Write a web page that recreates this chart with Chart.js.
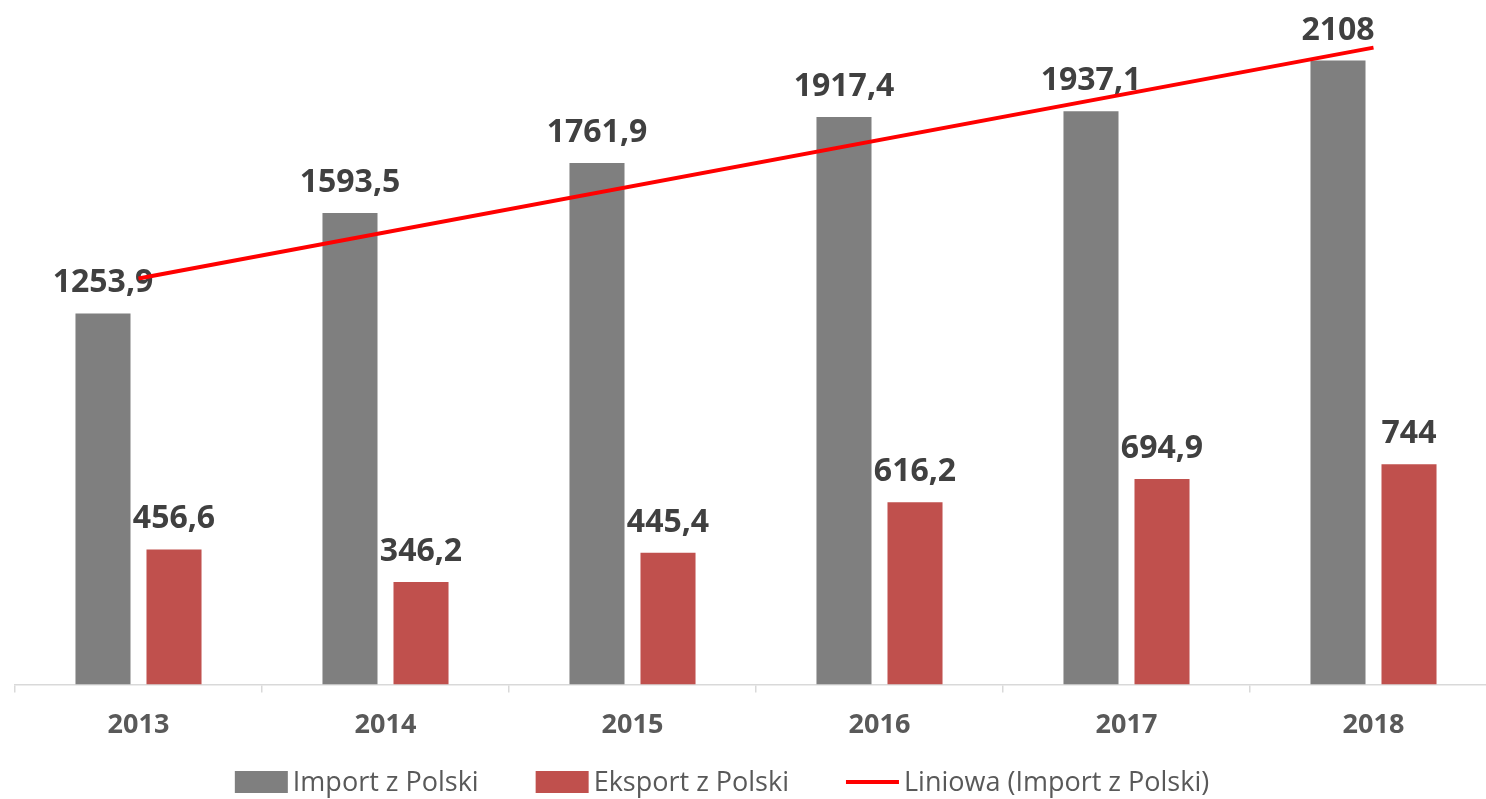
<!DOCTYPE html>
<html>
<head>
<meta charset="utf-8">
<script src="https://cdn.jsdelivr.net/npm/chart.js@4/dist/chart.umd.min.js"></script>
<style>
  html, body { margin: 0; padding: 0; background: #fff; overflow: hidden; }
  #wrap { width: 1497px; height: 799px; }
</style>
</head>
<body>
<div id="wrap"><canvas id="wykres" width="1497" height="799"></canvas></div>
<script>
// dane
const lata = ['2013', '2014', '2015', '2016', '2017', '2018'];
const importZPolski = [1253.9, 1593.5, 1761.9, 1917.4, 1937.1, 2108];
const eksportZPolski = [456.6, 346.2, 445.4, 616.2, 694.9, 744];
// linia trendu (Liniowa) - tylko punkt poczatkowy i koncowy
const trendImport = [1372, null, null, null, null, 2152];

const nazwy = ['Import z Polski', 'Eksport z Polski', 'Liniowa (Import z Polski)'];
const kolory = ['#7f7f7f', '#c0504d', '#ff0000'];

// etykiety wartosci nad slupkami
const etykiety = {
    id: 'etykiety',
    beforeDatasetsDraw(chart) {
        const ctx = chart.ctx;
        ctx.save();
        ctx.font = 'bold 32px "Open Sans"';
        ctx.fillStyle = '#404040';
        ctx.textAlign = 'center';
        ctx.textBaseline = 'alphabetic';
        [0, 1].forEach(function (i) {
            const meta = chart.getDatasetMeta(i);
            meta.data.forEach(function (bar, j) {
                const v = chart.data.datasets[i].data[j];
                ctx.fillText(String(v).replace('.', ','), bar.x, bar.y - 21);
            });
        });
        ctx.restore();
    }
};

// legenda na dole
const legenda = {
    id: 'legenda',
    afterDraw(chart) {
        const ctx = chart.ctx;
        ctx.save();
        ctx.font = '27px "Open Sans"';
        ctx.textBaseline = 'middle';
        ctx.textAlign = 'left';
        const box = 53, gap = 5, odstep = 57, y = 782;
        const szer = nazwy.map(function (n) { return ctx.measureText(n).width; });
        let total = 0;
        szer.forEach(function (w) { total += box + gap + w; });
        total += odstep * (nazwy.length - 1);
        let x = 722 - total / 2;
        nazwy.forEach(function (n, i) {
            if (i < 2) {
                ctx.fillStyle = kolory[i];
                ctx.fillRect(x, y - 11, box, 22);
            } else {
                ctx.strokeStyle = kolory[i];
                ctx.lineWidth = 4;
                ctx.beginPath();
                ctx.moveTo(x, y);
                ctx.lineTo(x + box, y);
                ctx.stroke();
            }
            ctx.fillStyle = '#595959';
            ctx.fillText(n, x + box + gap, y + 1);
            x += box + gap + szer[i] + odstep;
        });
        ctx.restore();
    }
};

const ctx = document.getElementById('wykres').getContext('2d');
new Chart(ctx, {
    type: 'bar',
    data: {
        labels: lata,
        datasets: [
            {
                label: nazwy[0],
                data: importZPolski,
                backgroundColor: kolory[0],
                order: 2
            },
            {
                label: nazwy[1],
                data: eksportZPolski,
                backgroundColor: kolory[1],
                order: 2
            },
            {
                type: 'line',
                label: nazwy[2],
                data: trendImport,
                borderColor: kolory[2],
                borderWidth: 4,
                pointRadius: 0,
                spanGaps: true,
                fill: false,
                order: 1
            }
        ]
    },
    options: {
        responsive: false,
        animation: false,
        categoryPercentage: 0.575,
        barPercentage: 0.775,
        layout: {
            padding: { top: 10, left: 15, right: 0, bottom: 40 }
        },
        plugins: {
            legend: { display: false },
            tooltip: { enabled: false }
        },
        scales: {
            x: {
                offset: true,
                grid: {
                    offset: true,
                    drawOnChartArea: false,
                    drawTicks: true,
                    tickLength: 8,
                    color: '#d9d9d9',
                    lineWidth: 1.5
                },
                border: { color: '#d9d9d9', width: 1.5 },
                ticks: {
                    padding: 17,
                    color: '#595959',
                    font: { family: '"Open Sans"', size: 27, weight: 'bold' }
                }
            },
            y: {
                display: false,
                min: 0,
                max: 2279
            }
        }
    },
    plugins: [etykiety, legenda]
});
</script>
</body>
</html>
